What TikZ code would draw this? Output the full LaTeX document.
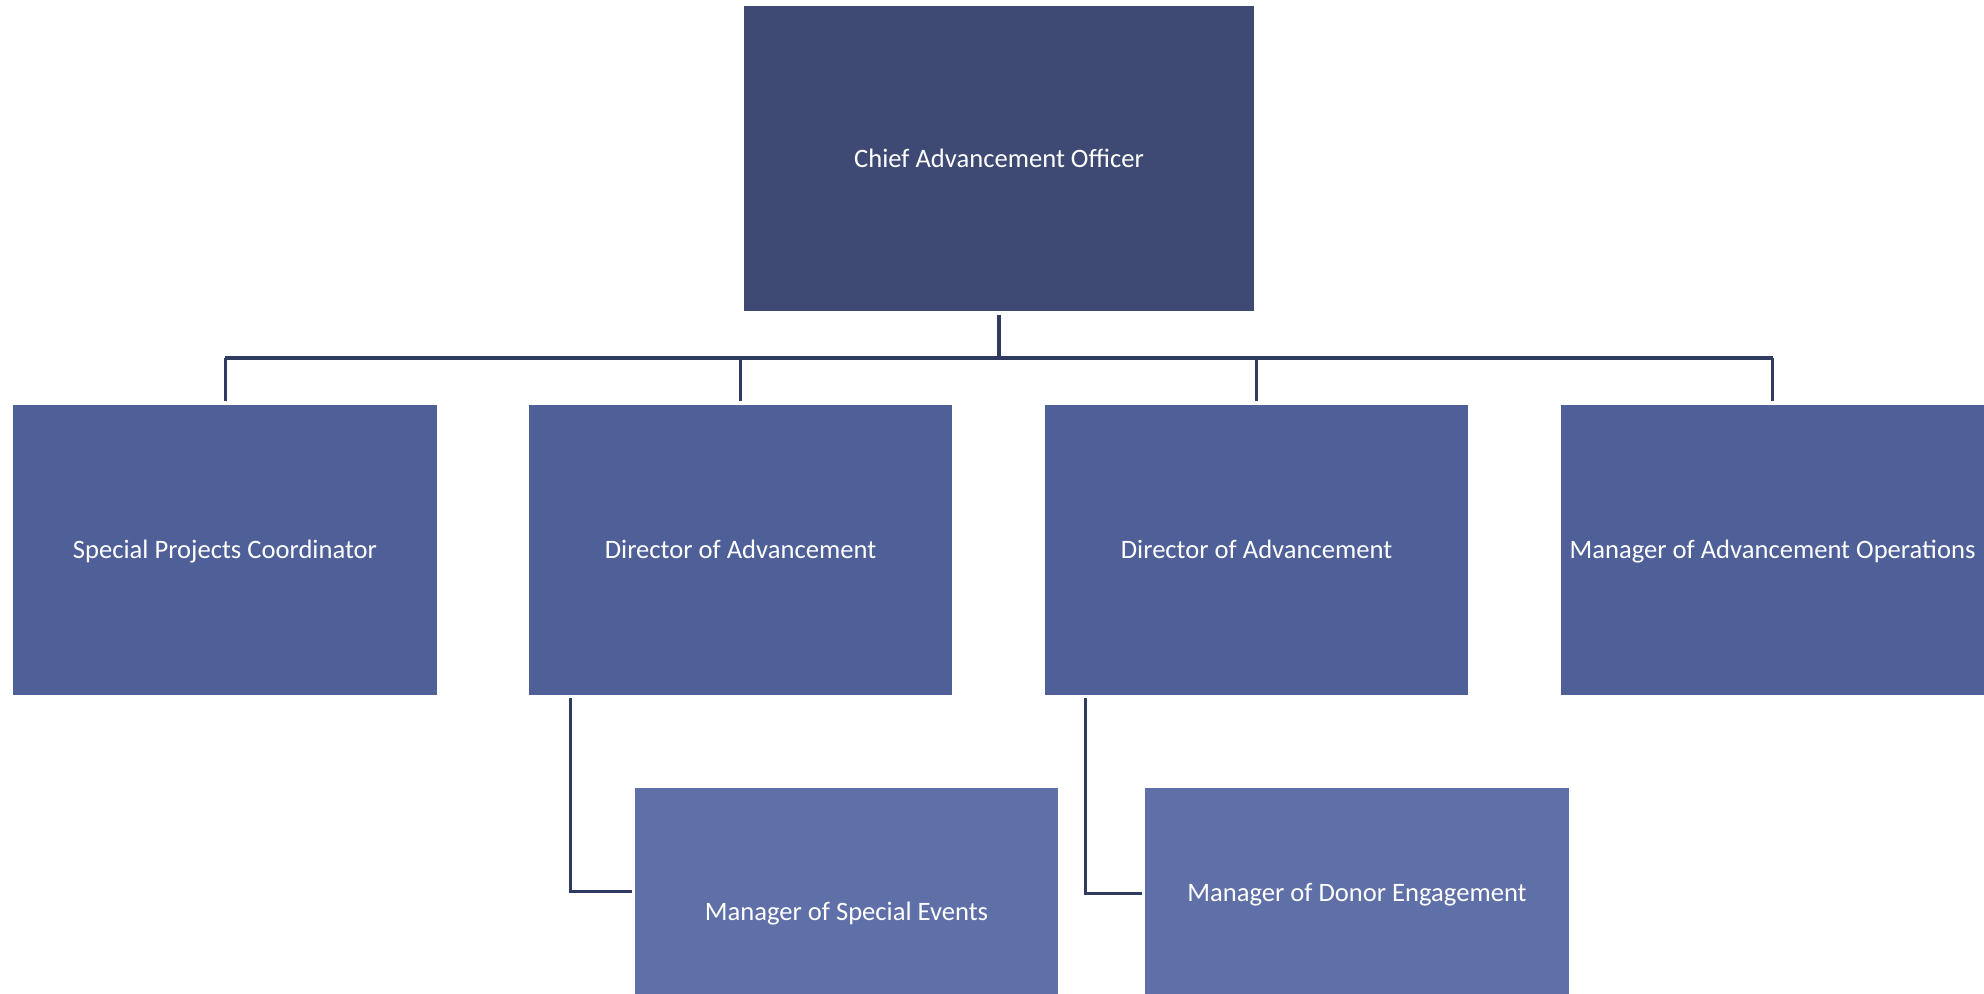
\documentclass[tikz,border=0pt]{standalone}
\usepackage{fontspec}
\setmainfont{Carlito}
\usetikzlibrary{calc}
\definecolor{topc}{HTML}{3E4A74}
\definecolor{midc}{HTML}{4F5F98}
\definecolor{lowc}{HTML}{5F6FA8}
\definecolor{linec}{HTML}{2F3A60}
\tikzset{
  box/.style={rectangle, inner sep=0pt, text=white, text height=11pt, text depth=2.4pt, font=\fontsize{13.3pt}{16pt}\selectfont},
  conn/.style={draw=linec, line width=1.5pt}
}
\begin{document}
\begin{tikzpicture}[x=0.5pt,y=-0.5pt]
\useasboundingbox (0,0) rectangle (1984,994);
\node[box, fill=topc, minimum width=255pt, minimum height=152.5pt] (ceo) at (999,158.5) {Chief Advancement Officer};
\node[box, fill=midc, minimum width=212pt, minimum height=145pt] (spc) at (225,550) {Special Projects Coordinator};
\node[box, fill=midc, minimum width=211.5pt, minimum height=145pt] (dir1) at (740.5,550) {Director of Advancement};
\node[box, fill=midc, minimum width=211.5pt, minimum height=145pt] (dir2) at (1256.5,550) {Director of Advancement};
\node[box, fill=midc, minimum width=211.5pt, minimum height=145pt] (mao) at (1772.5,550) {Manager of Advancement Operations};
\node[box, fill=lowc, minimum width=211.5pt, minimum height=124pt] (mse) at (846.5,912) {Manager of Special Events};
\node[box, fill=lowc, minimum width=212pt, minimum height=105pt] (mde) at (1357,893) {Manager of Donor Engagement};
\coordinate (bus) at (0,358);
\draw[conn, line width=2pt] ($(ceo.south)+(0,4)$) -- (ceo.south |- bus);
\draw[conn] (spc.north |- bus) -- (mao.north |- bus);
\foreach \n in {spc,dir1,dir2,mao}
  \draw[conn] (\n.north |- bus) -- ($(\n.north)+(0,-4)$);
\draw[conn] ($(dir1.south west)+(42,3)$) |- ($(mse.north west)+(-3,104)$);
\draw[conn] ($(dir2.south west)+(41,3)$) |- ($(mde.west)+(-3,0)$);
\end{tikzpicture}
\end{document}
